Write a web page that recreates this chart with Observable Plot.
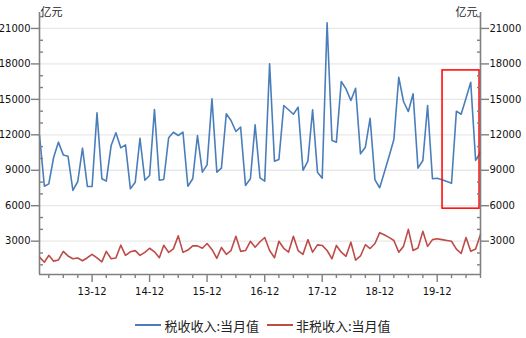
<!DOCTYPE html>
<html><head><meta charset="utf-8">
<script src="https://cdn.jsdelivr.net/npm/d3@7"></script>
<script src="https://cdn.jsdelivr.net/npm/@observablehq/plot@0.6"></script>
<style>
body{margin:0;background:#fff;width:526px;height:338px;overflow:hidden}
#legend{display:flex;justify-content:center;align-items:center;height:20px;margin-top:7px;font:13px "Noto Sans CJK SC",sans-serif;color:#222}
.item{display:flex;align-items:center;margin:0 4px}
.sw{display:inline-block;width:26px;height:2px;margin-right:3px}
</style></head><body><div id="chart"></div><div id="legend"></div>
<script>
const seriesNames = ["税收收入:当月值", "非税收入:当月值"];
const seriesColors = ["#4a7ebb", "#be4b48"];
const startMonth = "2013-01";
const endMonth = "2020-09";
const taxRevenue = [
  11950, 7650, 7850, 10100, 11380, 10300, 10190, 7290, 8050, 10870,
  7630, 7630, 13860, 8280, 8080, 11100, 12170, 10900, 11150, 7430,
  7990, 11710, 8160, 8560, 14140, 8160, 8220, 11750, 12220, 11940,
  12220, 7650, 8280, 11940, 8840, 9460, 15050, 8840, 9180, 13780,
  13210, 12280, 12650, 7710, 8280, 12850, 8360, 8080, 18010, 9770,
  9910, 14480, 14120, 13740, 14340, 9000, 9770, 14120, 8840, 8330,
  21480, 11520, 11380, 16510, 15890, 14900, 15940, 10390, 10950, 13400,
  8190, 7520, 8900, 10300, 11600, 16870, 14820, 13970, 15470, 9180,
  9830, 14480, 8280, 8330, 8200, 8050, 7900, 14000, 13740, 15100,
  16450, 9830, 10530
];
const nonTaxRevenue = [
  1650, 1220, 1800, 1310, 1400, 2140, 1750, 1510, 1580, 1340,
  1600, 1890, 1580, 1250, 2140, 1510, 1580, 2660, 1800, 2100,
  2200, 1800, 2050, 2400, 2100, 1600, 2650, 2050, 2350, 3450,
  2050, 2250, 2600, 2600, 2400, 2800, 2300, 1550, 2470, 1890,
  2210, 3410, 2140, 2210, 2990, 2490, 2950, 3310, 2210, 1600,
  2990, 2400, 2070, 3410, 2210, 1890, 3130, 2070, 2690, 2640,
  2210, 1510, 2640, 2070, 1720, 2915, 1400, 1750, 2700, 2380,
  2800, 3720, 3520, 3300, 3060, 2070, 2560, 4000, 2210, 2420,
  3830, 2560, 3130, 3200, 3130, 3060, 2990, 2330, 1960, 3310,
  2140, 2330, 3570
];
const xTickLabels = ["13-12", "14-12", "15-12", "16-12", "17-12", "18-12", "19-12"];
const yTickValues = [3000, 6000, 9000, 12000, 15000, 18000, 21000];
const yMinorStep = 1000;
const yRange = [180, 22350];
const unitLabel = "亿元";
const highlightBox = [{from: "2020-01-04", to: "2020-08-26", low: 5750, high: 17450}];

const parseMonth = d3.utcParse("%Y-%m");
const months = d3.utcMonths(parseMonth(startMonth), d3.utcMonth.offset(parseMonth(endMonth), 1));
const rows = months.map((date, i) => ({date, tax: taxRevenue[i], nontax: nonTaxRevenue[i]}));
const majorX = xTickLabels.map(d3.utcParse("%y-%m"));
const minorX = months.filter(d => d.getUTCMonth() % 3 === 2 && d.getUTCMonth() !== 11);
const minorY = d3.range(yMinorStep, yRange[1], yMinorStep).filter(v => !yTickValues.includes(v));
const xDomain = [months[0], months[months.length - 1]];
const boxes = highlightBox.map(b => ({x1: d3.utcParse("%Y-%m-%d")(b.from), x2: d3.utcParse("%Y-%m-%d")(b.to), y1: b.low, y2: b.high}));

const axisGray = "#808080";
const fmt = d3.utcFormat("%y-%m");

const chart = Plot.plot({
  width: 526,
  height: 308,
  marginLeft: 39,
  marginRight: 46,
  marginTop: 12,
  marginBottom: 34,
  style: {fontFamily: "DejaVu Sans, sans-serif", fontSize: "10px", color: "#111", background: "#fff"},
  x: {type: "utc", domain: xDomain, label: null},
  y: {domain: yRange, label: null},
  marks: [
    Plot.gridY(yTickValues, {stroke: "#e8e8e8", strokeOpacity: 1, strokeWidth: 1.3}),
    Plot.lineY(rows, {x: "date", y: "tax", stroke: seriesColors[0], strokeWidth: 1.6}),
    Plot.lineY(rows, {x: "date", y: "nontax", stroke: seriesColors[1], strokeWidth: 1.6}),
    Plot.rect(boxes, {x1: "x1", x2: "x2", y1: "y1", y2: "y2", fill: "none", stroke: "#ff0000", strokeWidth: 1.5}),
    Plot.ruleX(xDomain, {stroke: axisGray, strokeWidth: 1.6}),
    Plot.ruleY([yRange[0]], {stroke: axisGray, strokeWidth: 1.6}),
    Plot.axisY(yTickValues, {anchor: "left", tickSize: 8, tickPadding: 1, stroke: axisGray, strokeWidth: 1.4, fill: "#111", tickFormat: d3.format("d")}),
    Plot.axisY(minorY, {anchor: "left", tickSize: 4, dx: 4, stroke: axisGray, strokeWidth: 1.4, fill: "none"}),
    Plot.axisY(yTickValues, {anchor: "right", tickSize: 8, tickPadding: 1, stroke: axisGray, strokeWidth: 1.4, fill: "#111", tickFormat: d3.format("d")}),
    Plot.axisY(minorY, {anchor: "right", tickSize: 4, dx: -4, stroke: axisGray, strokeWidth: 1.4, fill: "none"}),
    Plot.axisX(majorX, {anchor: "bottom", tickSize: 8, tickPadding: 5, stroke: axisGray, strokeWidth: 1.4, fill: "#111", tickFormat: fmt}),
    Plot.axisX(minorX, {anchor: "bottom", tickSize: 4, stroke: axisGray, strokeWidth: 1.4, fill: "none"}),
    Plot.text([unitLabel], {frameAnchor: "top-left", dx: 1, textAnchor: "start", lineAnchor: "middle", fontSize: 11, fontFamily: "Noto Sans CJK SC", fill: "#222"}),
    Plot.text([unitLabel], {frameAnchor: "top-right", dx: -3, textAnchor: "end", lineAnchor: "middle", fontSize: 11, fontFamily: "Noto Sans CJK SC", fill: "#222"})
  ]
});
document.getElementById("chart").appendChild(chart);

const legend = document.getElementById("legend");
seriesNames.forEach((name, i) => {
  const item = document.createElement("span");
  item.className = "item";
  const sw = document.createElement("span");
  sw.className = "sw";
  sw.style.background = seriesColors[i];
  item.appendChild(sw);
  item.appendChild(document.createTextNode(name));
  legend.appendChild(item);
});
</script>
</body></html>
